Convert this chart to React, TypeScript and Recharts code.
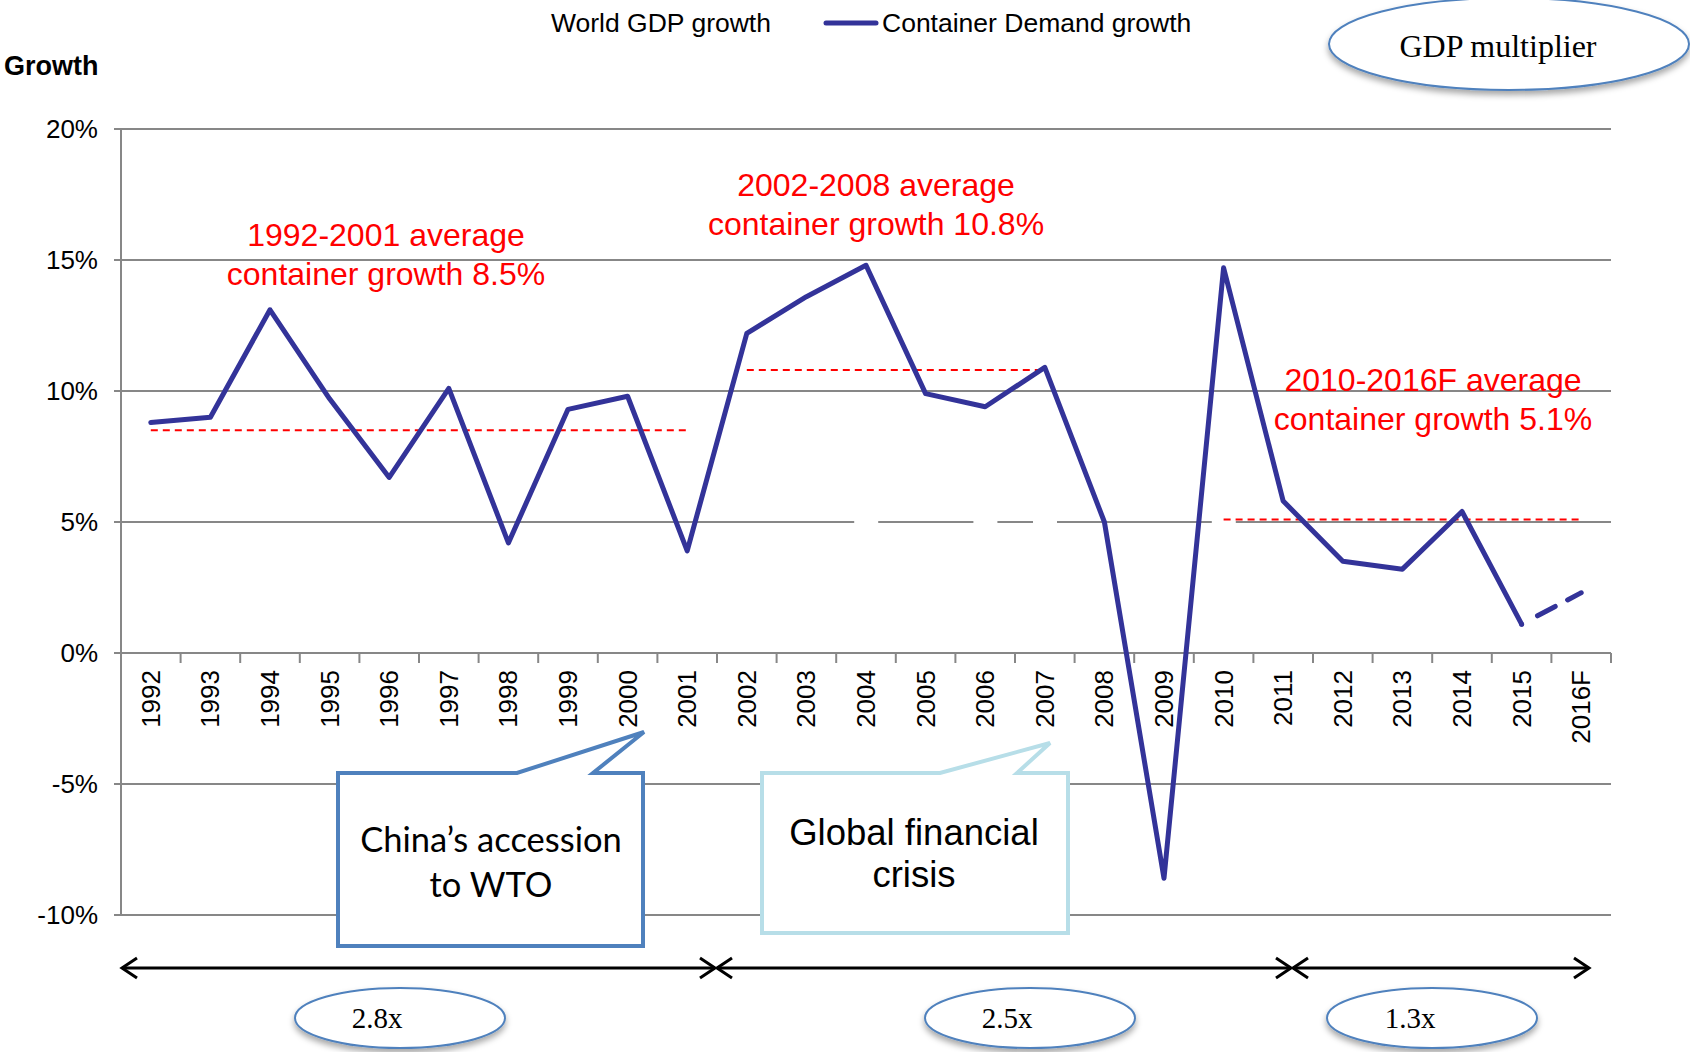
import React from 'react';
import { ComposedChart, Bar, Line, XAxis, YAxis, CartesianGrid, ReferenceLine } from 'recharts';

const years = [
  '1992', '1993', '1994', '1995', '1996', '1997', '1998', '1999', '2000', '2001',
  '2002', '2003', '2004', '2005', '2006', '2007', '2008', '2009', '2010', '2011',
  '2012', '2013', '2014', '2015', '2016F',
];

// container demand growth, % (2016F is drawn as the dashed forecast leg)
const containerGrowth = [
  8.8, 9.0, 13.1, 9.7, 6.7, 10.1, 4.2, 9.3, 9.8, 3.9,
  12.2, 13.6, 14.8, 9.9, 9.4, 10.9, 5.0, -8.6, 14.7, 5.8,
  3.5, 3.2, 5.4, 1.1, null,
];
const forecastGrowth = [
  null, null, null, null, null, null, null, null, null, null,
  null, null, null, null, null, null, null, null, null, null,
  null, null, null, 1.1, 2.3,
];

// world GDP growth, %, kept as white columns (only visible where they cut the 5% grid line)
const worldGdpGrowth = [
  2.2, 2.1, 3.3, 3.3, 3.8, 4.1, 2.6, 3.6, 4.8, 2.5,
  3.0, 4.3, 5.4, 4.9, 5.5, 5.6, 3.0, -0.1, 5.4, 4.2,
  3.5, 3.3, 3.4, 3.1, 3.2,
];

const yTicks = [-10, -5, 0, 5, 10, 15, 20];

const avgFrom = ['1992', '2002', '2010'];
const avgTo = ['2001', '2007', '2016F'];
const avgValue = [8.5, 10.8, 5.1];
const avgTitle = ['1992-2001 average', '2002-2008 average', '2010-2016F average'];

const multipliers = ['2.8x', '2.5x', '1.3x'];

const data = years.map((year, i) => ({
  year,
  demand: containerGrowth[i],
  forecast: forecastGrowth[i],
  gdp: worldGdpGrowth[i],
}));

const W = 1690;
const H = 1052;
const PLOT_LEFT = 121;
const PLOT_RIGHT = 1611;
const PLOT_TOP = 129;
const PLOT_BOTTOM = 915;
const X_AXIS_H = 30;
const Y_AXIS_W = 100;
const BAND = (PLOT_RIGHT - PLOT_LEFT) / years.length;
const ZERO_Y = PLOT_TOP + ((PLOT_BOTTOM - PLOT_TOP) * 20) / 30;

const GRID = '#878787';
const NAVY = '#333399';
const SANS = "'Liberation Sans', Arial, sans-serif";
const SERIF = "'Liberation Serif', 'Times New Roman', serif";

// year labels sit under the 0% line, with tick marks on the category edges
const YearTick = (props: any) => {
  const { x, payload, index } = props;
  const half = BAND / 2;
  const ty = ZERO_Y + 17;
  return (
    <g>
      <line x1={x - half} x2={x - half} y1={ZERO_Y} y2={ZERO_Y + 10} stroke={GRID} strokeWidth={2} />
      {index === years.length - 1 && (
        <line x1={x + half} x2={x + half} y1={ZERO_Y} y2={ZERO_Y + 10} stroke={GRID} strokeWidth={2} />
      )}
      <text
        x={x}
        y={ty}
        transform={`rotate(-90 ${x} ${ty})`}
        textAnchor="end"
        dominantBaseline="central"
        fontSize={26}
        fontFamily={SANS}
        fill="#000"
      >
        {payload.value}
      </text>
    </g>
  );
};

const Arrow = ({ x1, x2, y }: { x1: number; x2: number; y: number }) => (
  <g stroke="#000" strokeWidth={3} fill="none">
    <line x1={x1} x2={x2} y1={y} y2={y} />
    <polyline points={`${x1 + 15},${y - 10} ${x1},${y} ${x1 + 15},${y + 10}`} />
    <polyline points={`${x2 - 15},${y - 10} ${x2},${y} ${x2 - 15},${y + 10}`} />
  </g>
);

const Badge = ({ cx, tx, cy, text }: { cx: number; tx: number; cy: number; text: string }) => (
  <g>
    <ellipse cx={cx} cy={cy} rx={105} ry={30} fill="#fff" stroke="#4F81BD" strokeWidth={2} filter="url(#soft)" />
    <text x={tx} y={cy} textAnchor="middle" dominantBaseline="central" fontSize={29} fontFamily={SERIF} fill="#000">
      {text}
    </text>
  </g>
);

const App = () => {
  const labelPos = [
    { x: 386, y: 235 },
    { x: 876, y: 185 },
    { x: 1433, y: 380 },
  ];

  return (
    <div style={{ position: 'absolute', left: 0, top: 0, width: W, height: H, background: '#fff' }}>
      <ComposedChart
        width={W}
        height={H}
        data={data}
        margin={{
          top: PLOT_TOP,
          right: W - PLOT_RIGHT,
          bottom: H - PLOT_BOTTOM - X_AXIS_H,
          left: PLOT_LEFT - Y_AXIS_W,
        }}
      >
        <CartesianGrid vertical={false} stroke={GRID} strokeWidth={2} />
        <XAxis
          dataKey="year"
          axisLine={false}
          tickLine={false}
          interval={0}
          height={X_AXIS_H}
          tick={<YearTick />}
        />
        <YAxis
          width={Y_AXIS_W}
          domain={[-10, 20]}
          ticks={yTicks}
          tickFormatter={(v: number) => `${v}%`}
          axisLine={{ stroke: GRID, strokeWidth: 2 }}
          tickLine={{ stroke: GRID, strokeWidth: 2 }}
          tickSize={7}
          tickMargin={16}
          tick={{ fontSize: 26, fill: '#000', fontFamily: SANS }}
        />
        <Bar dataKey="gdp" name="World GDP growth" fill="#fff" barSize={24} isAnimationActive={false} />
        <ReferenceLine y={0} stroke={GRID} strokeWidth={2} />
        {avgValue.map((v, i) => (
          <ReferenceLine
            key={avgTitle[i]}
            segment={[
              { x: avgFrom[i], y: v },
              { x: avgTo[i], y: v },
            ]}
            stroke="#FF0000"
            strokeWidth={2}
            strokeDasharray="7 5"
          />
        ))}
        <Line
          dataKey="demand"
          name="Container Demand growth"
          stroke={NAVY}
          strokeWidth={5}
          strokeLinecap="round"
          strokeLinejoin="round"
          dot={false}
          isAnimationActive={false}
        />
        <Line
          dataKey="forecast"
          stroke={NAVY}
          strokeWidth={5}
          strokeLinecap="round"
          strokeDasharray="0 18 20 14 14"
          dot={false}
          legendType="none"
          isAnimationActive={false}
        />
      </ComposedChart>

      <svg width={W} height={H} style={{ position: 'absolute', left: 0, top: 0, pointerEvents: 'none' }}>
        <defs>
          <filter id="soft" x="-20%" y="-20%" width="140%" height="160%">
            <feDropShadow dx="0" dy="4" stdDeviation="3" floodColor="#000" floodOpacity="0.35" />
          </filter>
        </defs>

        {/* legend */}
        <text x={551} y={23} dominantBaseline="central" fontSize={26.5} fontFamily={SANS} fill="#000">
          World GDP growth
        </text>
        <line x1={826} x2={876} y1={23} y2={23} stroke={NAVY} strokeWidth={5} strokeLinecap="round" />
        <text x={882} y={23} dominantBaseline="central" fontSize={26.5} fontFamily={SANS} fill="#000">
          Container Demand growth
        </text>

        <text x={4} y={66} dominantBaseline="central" fontSize={27} fontWeight="bold" fontFamily={SANS} fill="#000">
          Growth
        </text>

        <ellipse cx={1509} cy={44} rx={180} ry={46} fill="#fff" stroke="#4F81BD" strokeWidth={2} filter="url(#soft)" />
        <text x={1498} y={46} textAnchor="middle" dominantBaseline="central" fontSize={32} fontFamily={SERIF} fill="#000">
          GDP multiplier
        </text>

        {/* period averages */}
        {avgTitle.map((t, i) => (
          <text key={t} textAnchor="middle" fontSize={32} fontFamily={SANS} fill="#FF0000">
            <tspan x={labelPos[i].x} y={labelPos[i].y} dominantBaseline="central">
              {t}
            </tspan>
            <tspan x={labelPos[i].x} y={labelPos[i].y + 39} dominantBaseline="central">
              {`container growth ${avgValue[i]}%`}
            </tspan>
          </text>
        ))}

        {/* callouts */}
        <path
          d="M338,773 L517,773 L644,732 L593,773 L643,773 L643,946 L338,946 Z"
          fill="#fff"
          stroke="#4F81BD"
          strokeWidth={4}
        />
        <text textAnchor="middle" fontSize={34.5} fontFamily="Lato, 'Open Sans', sans-serif" fill="#000">
          <tspan x={491} y={838} dominantBaseline="central">China’s accession</tspan>
          <tspan x={491} y={883} dominantBaseline="central">to WTO</tspan>
        </text>

        <path
          d="M762,773 L940,773 L1050,743 L1017,773 L1068,773 L1068,933 L762,933 Z"
          fill="#fff"
          stroke="#B7DEE8"
          strokeWidth={4}
        />
        <text textAnchor="middle" fontSize={36.5} fontFamily={SANS} fill="#000">
          <tspan x={914} y={832} dominantBaseline="central">Global financial</tspan>
          <tspan x={914} y={874} dominantBaseline="central">crisis</tspan>
        </text>

        {/* multiplier periods */}
        <Arrow x1={122} x2={715} y={968} />
        <Arrow x1={717} x2={1291} y={968} />
        <Arrow x1={1293} x2={1589} y={968} />

        <Badge cx={400} tx={377} cy={1018} text={multipliers[0]} />
        <Badge cx={1030} tx={1007} cy={1018} text={multipliers[1]} />
        <Badge cx={1432} tx={1410} cy={1018} text={multipliers[2]} />
      </svg>
    </div>
  );
};

export default App;
